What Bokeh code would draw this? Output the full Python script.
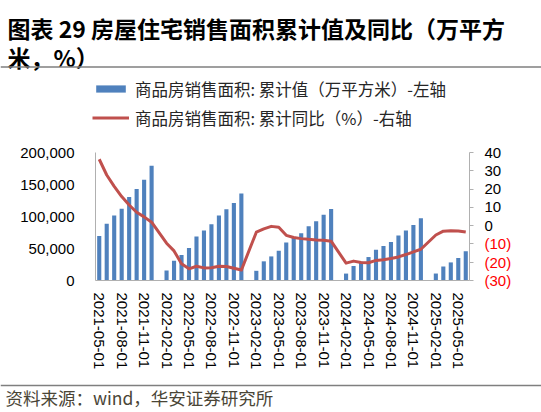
from bokeh.plotting import figure
from bokeh.models import (Range1d, LinearAxis, FixedTicker, NumeralTickFormatter,
                          Label, Legend, LegendItem, Span, ColumnDataSource)
from bokeh.embed import file_html
from bokeh.resources import INLINE

# ---------------- data ----------------
months = [f"{y}-{m:02d}-01" for y in range(2021, 2026) for m in range(1, 13)]
months = months[4:4 + 50]  # 2021-05 .. 2025-06

# cumulative sales area (10k m2); January has no release (None)
area_2021 = [69604, 88635, 101446, 112170, 130332, 143041, 157431, 179433]
area_2022 = [None, 15703, 31046, 39768, 50738, 68923, 78178, 87890, 101422, 111179, 121250, 135837]
area_2023 = [None, 15133, 29946, 37636, 46440, 59515, 66563, 73949, 84806, 92579, 102788, 111735]
area_2024 = [None, 10817, 22668, 29252, 36642, 47916, 54007, 60040, 70284, 77930, 86724, 97385]
area_2025 = [None, 10881, 21869, 28262, 35180, 45851]

# cumulative YoY (%)
yoy_2021 = [36.3, 27.7, 21.5, 15.9, 11.3, 7.3, 4.8, 1.9]
yoy_2022 = [None, -9.6, -13.8, -20.9, -23.6, -22.2, -23.1, -23.0, -22.2, -22.3, -23.3, -24.3]
yoy_2023 = [None, -3.6, -1.8, -0.4, -0.9, -5.3, -6.5, -7.1, -7.5, -7.8, -8.0, -8.5]
yoy_2024 = [None, -20.5, -19.4, -20.2, -20.3, -19.0, -18.6, -18.0, -17.1, -15.8, -14.3, -12.9]
yoy_2025 = [None, -5.1, -3.0, -2.8, -2.9, -3.5]

left_ticks = [0, 50000, 100000, 150000, 200000]
right_ticks = [-30, -20, -10, 0, 10, 20, 30, 40]

title_line1 = "图表 29 房屋住宅销售面积累计值及同比（万平方"
title_line2 = "米，%）"
legend_bar = "商品房销售面积: 累计值（万平方米）-左轴"
legend_line = "商品房销售面积: 累计同比（%）-右轴"
source_text = "资料来源：wind，华安证券研究所"

area = area_2021 + area_2022 + area_2023 + area_2024 + area_2025
yoy = yoy_2021 + yoy_2022 + yoy_2023 + yoy_2024 + yoy_2025

n = len(months)
idx = list(range(n))
bar_src = ColumnDataSource(dict(x=[i for i in idx if area[i] is not None],
                                top=[area[i] for i in idx if area[i] is not None]))
line_src = ColumnDataSource(dict(x=[i for i in idx if yoy[i] is not None],
                                 y=[yoy[i] for i in idx if yoy[i] is not None]))

# ---------------- layout geometry (pixels) ----------------
W, H = 541, 412
PX_LEFT, PX_RIGHT = 95, 469      # plot area left / right edge
PX_TOP, PX_BOTTOM = 152, 280     # plot area top / bottom edge

x_lo, x_hi = -0.5, n - 0.5
sx = (x_hi - x_lo) / (PX_RIGHT - PX_LEFT)
x_range = Range1d(x_lo - PX_LEFT * sx, x_hi + (W - PX_RIGHT) * sx)

def vrange(lo, hi):
    s = (hi - lo) / (PX_BOTTOM - PX_TOP)
    return Range1d(lo - (H - PX_BOTTOM) * s, hi + PX_TOP * s)

y_range = vrange(left_ticks[0], left_ticks[-1])

def px_to_y(py):
    s = (y_range.end - y_range.start) / H
    return y_range.start + (H - py) * s

p = figure(width=W, height=H, output_backend="svg", toolbar_location=None,
           x_range=x_range, y_range=y_range,
           min_border=0, x_axis_location=None, y_axis_location=None, title=None)
p.extra_y_ranges = {"yoy": vrange(right_ticks[0], right_ticks[-1])}
p.outline_line_color = None
p.xgrid.visible = False
p.ygrid.visible = False
p.background_fill_color = "white"
p.border_fill_color = "white"

AXIS_GRAY = "#B0B0B0"
TICK_FONT = "Liberation Sans"
TICK_SIZE = "15px"

# bottom axis
xaxis = LinearAxis(ticker=FixedTicker(ticks=list(range(0, n, 3))), fixed_location=left_ticks[0],
                   bounds=(x_lo, x_hi),
                   major_label_overrides={i: months[i] for i in range(0, n, 3)},
                   major_label_orientation="vertical", major_tick_out=0, major_tick_in=0,
                   minor_tick_out=0, minor_tick_in=0, major_label_standoff=12,
                   axis_line_color=AXIS_GRAY, major_label_text_font=TICK_FONT,
                   major_label_text_font_size=TICK_SIZE, major_label_text_color="black")
p.add_layout(xaxis, "below")

# left axis
yaxis = LinearAxis(ticker=FixedTicker(ticks=left_ticks), formatter=NumeralTickFormatter(format="0,0"),
                   fixed_location=x_lo, bounds=(left_ticks[0], left_ticks[-1]),
                   major_tick_out=0, major_tick_in=0, minor_tick_out=0, minor_tick_in=0,
                   major_label_standoff=21, axis_line_color=AXIS_GRAY,
                   major_label_text_font=TICK_FONT, major_label_text_font_size=TICK_SIZE,
                   major_label_text_color="black")
p.add_layout(yaxis, "left")

# right axis
raxis = LinearAxis(y_range_name="yoy", ticker=FixedTicker(ticks=right_ticks),
                   fixed_location=x_hi, bounds=(right_ticks[0], right_ticks[-1]),
                   major_label_overrides={t: ("" if t < 0 else str(t)) for t in right_ticks},
                   major_tick_out=4, major_tick_in=0, minor_tick_out=0, minor_tick_in=0,
                   major_tick_line_color=AXIS_GRAY, major_label_standoff=11,
                   axis_line_color=AXIS_GRAY, major_label_text_font=TICK_FONT,
                   major_label_text_font_size=TICK_SIZE, major_label_text_color="black")
p.add_layout(raxis, "right")

for t in right_ticks:
    if t < 0:
        p.add_layout(Label(x=PX_RIGHT + 15, y=t, x_units="screen", y_range_name="yoy",
                           text=f"({-t})", text_color="#FF0000", text_font=TICK_FONT,
                           text_font_size=TICK_SIZE, text_align="left", text_baseline="middle"))

bars = p.vbar(x="x", top="top", source=bar_src, width=0.55, color="#4F81BD", line_color=None)
line = p.line(x="x", y="y", source=line_src, y_range_name="yoy", line_color="#C0504D",
              line_width=3, line_join="round")

CJK = "Noto Sans CJK SC"
# legend
legend = Legend(items=[LegendItem(label=legend_bar, renderers=[bars]),
                       LegendItem(label=legend_line, renderers=[line])],
                location=(92, H - 129.5), orientation="vertical", glyph_width=37, glyph_height=9,
                label_height=9, spacing=5, padding=0, margin=0, label_standoff=6,
                border_line_color=None, background_fill_alpha=0,
                label_text_font=CJK, label_text_font_size="16.5px",
                label_text_color="#262626")
p.add_layout(legend, "center")

# title
p.add_layout(Label(x=7, y=H - 27, x_units="screen", y_units="screen", text=title_line1,
                   text_font=CJK, text_font_size="23px", text_font_style="bold",
                   text_color="black", text_baseline="middle", text_align="left"))
p.add_layout(Label(x=7, y=H - 56, x_units="screen", y_units="screen", text=title_line2,
                   text_font=CJK, text_font_size="23px", text_font_style="bold",
                   text_color="black", text_baseline="middle", text_align="left"))
# rules
p.add_layout(Span(location=px_to_y(66.5), dimension="width", line_color="#7F7F7F", line_width=1.5))
p.add_layout(Span(location=px_to_y(385), dimension="width", line_color="#7F7F7F", line_width=1.5))
# source
p.add_layout(Label(x=5, y=H - 397, x_units="screen", y_units="screen", text=source_text,
                   text_font=CJK, text_font_size="17.5px", text_color="#4a4536",
                   text_baseline="middle", text_align="left"))

open("out.html", "w").write(file_html(p, INLINE))
